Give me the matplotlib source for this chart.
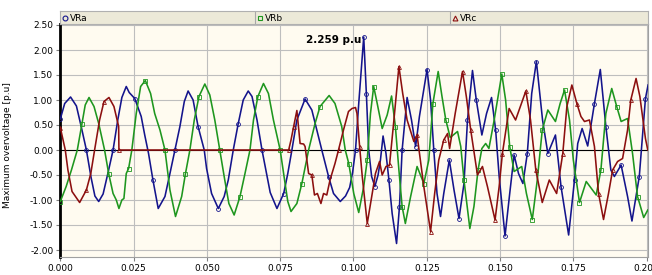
import numpy as np
import matplotlib
matplotlib.use("Agg")
import matplotlib.pyplot as plt

# time in ms, values in p.u.
t_a = [0, 1.5, 3.5, 5.5, 7.2, 8.9, 10.5, 11.8, 13.1, 14.6,
       16.3, 18.0, 19.6, 21.0, 22.5, 23.5, 25.4, 27.6, 28.8, 30.1,
       31.6, 33.4, 35.7, 37.4, 39.1, 40.8, 42.3, 43.6, 45.3, 47.0,
       49.1, 49.9, 51.6, 53.9, 55.9, 57.3, 59.0, 60.7, 62.4, 64.1,
       65.4, 67.1, 68.8, 71.6, 73.9, 76.2, 77.6, 79.0, 80.7, 83.5,
       85.8, 87.5, 89.2, 91.5, 93.2, 95.5, 97.3, 98.7, 99.7, 100.7,
       101.8, 103.5, 104.4, 105.2, 106.2, 107.3, 108.4, 109.2, 110.1, 111.1,
       112.1, 113.2, 114.7, 115.7, 116.6, 118.3, 119.8, 121.2, 122.5, 125.1,
       126.3, 127.4, 128.5, 129.7, 130.8, 132.7, 134.3, 136.0, 137.7, 138.9,
       140.6, 141.9, 143.8, 145.4, 147.1, 148.5, 149.7, 151.7, 153.3, 154.8,
       156.3, 157.8, 159.3, 160.8, 162.4, 164.5, 166.3, 168.9, 170.8, 173.4,
       175.4, 176.5, 178.0, 179.9, 182.2, 184.2, 186.1, 187.8, 189.0, 191.3,
       193.5, 195.0, 197.5, 199.6, 200.5]
v_a = [0.62, 0.93, 1.06, 0.88, 0.45, 0.0, -0.55, -0.92, -1.03, -0.88,
       -0.45, 0.0, 0.6, 1.05, 1.27, 1.15, 1.03, 0.67, 0.3, -0.07,
       -0.6, -1.17, -0.93, -0.47, 0.0, 0.47, 0.97, 1.18, 1.0, 0.47,
       0.0, -0.37, -0.87, -1.17, -0.93, -0.6, 0.0, 0.53, 1.0, 1.18,
       1.07, 0.6, 0.0, -0.85, -1.17, -0.87, -0.47, 0.0, 0.6, 1.02,
       0.8, 0.4, 0.0, -0.53, -0.87, -1.03, -0.92, -0.75, -0.45, 0.0,
       0.93, 2.26, 1.13, 0.0, -0.53, -0.73, -0.5, -0.2, 0.28, -0.07,
       -0.6, -1.27, -1.87, -1.13, 0.0, 1.05, 0.6, 0.07, 0.67, 1.61,
       1.0, 0.0, -0.87, -1.33, -0.87, -0.2, -0.8, -1.37, -0.67, 0.6,
       1.59, 1.0, 0.30, 0.73, 1.05, 0.4, -0.53, -1.72, -0.87, -0.1,
       -0.47, -0.67, -0.07, 1.13, 1.77, 0.6, -0.07, 0.3, -0.73, -1.7,
       -0.6, 0.13, 0.43, 0.08, 0.93, 1.61, 0.47, -0.4, -0.53, -0.3,
       -0.93, -1.42, -0.53, 1.03, 1.3]

t_b = [0, 2.0, 3.8, 5.8, 7.4, 8.5, 9.8, 11.5, 13.1, 15.1,
       16.5, 18.0, 19.1, 20.0, 21.0, 21.7, 22.5, 23.3, 24.4, 25.9,
       27.4, 29.0, 30.8, 32.2, 34.0, 35.7, 37.4, 39.3, 41.4, 42.7,
       44.2, 45.7, 47.3, 49.3, 51.0, 52.7, 54.4, 56.1, 57.5, 59.3,
       61.3, 63.0, 64.7, 65.9, 67.4, 69.3, 71.0, 72.7, 75.0, 76.5,
       77.6, 78.7, 80.7, 82.4, 84.7, 86.9, 88.6, 91.7, 93.7, 96.0,
       97.2, 98.4, 100.1, 101.8, 103.5, 104.7, 105.8, 106.9, 108.1, 109.8,
       111.5, 113.0, 114.3, 115.5, 116.6, 117.7, 119.5, 121.7, 124.0, 125.7,
       127.1, 128.9, 130.2, 131.5, 133.0, 135.5, 136.6, 137.7, 139.7, 141.1,
       142.5, 143.8, 145.1, 146.2, 148.0, 150.6, 151.9, 153.3, 154.8, 157.4,
       159.0, 161.0, 162.7, 164.4, 166.3, 168.9, 170.5, 172.0, 173.7, 175.0,
       177.1, 179.4, 182.8, 184.4, 186.1, 188.1, 189.8, 191.3, 193.5, 195.2,
       196.9, 199.0, 200.4]
v_b = [-1.03, -0.73, -0.4, 0.0, 0.53, 0.9, 1.05, 0.87, 0.53, 0.0,
       -0.47, -0.87, -1.0, -1.17, -1.0, -0.97, -0.47, -0.37, 0.0, 0.73,
       1.27, 1.39, 1.13, 0.73, 0.4, 0.0, -0.8, -1.33, -0.93, -0.47,
       0.0, 0.6, 1.07, 1.32, 1.1, 0.6, 0.0, -0.6, -1.07, -1.3,
       -0.93, -0.47, 0.0, 0.6, 1.07, 1.33, 1.13, 0.6, 0.0, -0.6,
       -1.03, -1.23, -1.07, -0.67, 0.0, 0.53, 0.87, 1.09, 0.93, 0.47,
       0.0, -0.27, -0.87, -1.25, -0.73, -0.2, 0.73, 1.27, 0.93, 0.43,
       0.7, 1.08, 0.47, -0.4, -1.13, -1.47, -0.93, -0.33, -0.67, -0.2,
       0.93, 1.57, 1.07, 0.6, 0.25, 0.37, 0.07, -0.6, -1.57, -1.13,
       -0.4, 0.03, 0.13, 0.03, 0.6, 1.52, 1.0, 0.07, -0.43, -0.33,
       -0.87, -1.39, -0.6, 0.4, 0.8, 0.57, 0.93, 1.2, 0.6, -0.2,
       -1.05, -0.63, -0.9, -0.4, 0.73, 1.23, 0.87, 0.57, 0.63, -0.07,
       -0.93, -1.35, -1.2]

t_c = [0, 1.7, 2.6, 4.0, 6.6, 8.9, 10.4, 11.7, 13.4, 14.9,
       16.6, 18.3, 19.9, 20.0, 77.9, 78.7, 79.6, 80.7, 81.8, 83.0,
       83.5, 84.7, 85.8, 86.7, 87.7, 88.9, 89.8, 90.9, 92.0, 93.7,
       94.9, 96.6, 98.3, 99.5, 100.7, 101.2, 102.1, 103.0, 104.7, 106.4,
       107.5, 108.9, 109.8, 111.1, 112.3, 113.8, 115.5, 116.8, 118.3, 120.6,
       121.7, 124.0, 126.3, 127.7, 129.1, 130.8, 132.1, 132.8, 134.7, 137.2,
       138.5, 140.0, 142.3, 144.0, 145.7, 148.3, 149.7, 150.8, 153.1, 155.3,
       158.8, 160.4, 162.2, 164.4, 166.8, 169.3, 171.4, 172.8, 174.5, 176.2,
       177.6, 178.8, 180.5, 182.2, 183.6, 185.3, 187.0, 188.4, 190.1, 191.8,
       193.5, 194.6, 196.4, 197.7, 199.6, 200.4]
v_c = [0.45, 0.0, -0.4, -0.83, -1.05, -0.8, -0.47, 0.0, 0.6, 0.97,
       1.05, 0.87, 0.47, 0.0, 0.0, 0.2, 0.47, 0.79, 0.13, 0.12,
       0.07, -0.47, -0.5, -0.9, -0.87, -1.07, -0.87, -0.9, -0.6, -0.27,
       0.0, 0.4, 0.77, 0.83, 0.85, 0.73, 0.07, -0.53, -1.47, -0.87,
       -0.47, -0.23, -0.5, -0.33, -0.3, 0.6, 1.67, 1.13, 0.6, 0.17,
       0.3, -0.73, -1.63, -0.87, -0.2, 0.2, 0.33, 0.03, 0.73, 1.57,
       1.07, 0.4, -0.5, -0.33, -0.73, -1.4, -0.73, -0.07, 0.83, 0.6,
       1.18, 0.6, -0.4, -1.05, -0.6, -0.87, -0.07, 0.87, 1.3, 0.93,
       0.67, 0.57, 0.6, 0.07, -0.87, -1.39, -0.87, -0.4, -0.23, -0.17,
       0.4, 1.0, 1.43, 1.07, 0.23, 0.0]

names = ["VRa", "VRb", "VRc"]
colors = ["#14148C", "#1E961E", "#8C0F0F"]
marks = ["o", "s", "^"]

W, H = 652, 275
fig = plt.figure(figsize=(W / 100, H / 100), dpi=100)
fig.patch.set_facecolor("white")

ax = fig.add_axes([60.3 / W, 1 - 257 / H, (647.5 - 60.3) / W, (257 - 24) / H])
ax.set_facecolor("#FFFBF0")

series = [(t_a, v_a), (t_b, v_b), (t_c, v_c)]
for (t, v), c, m in zip(series, colors, marks):
    ax.plot(np.array(t) / 1000.0, v, color=c, lw=1.15, marker=m, ms=2.8,
            mfc="none", mec=c, mew=0.6, markevery=0.14,
            solid_joinstyle="round", zorder=3)

ax.set_xlim(0, 0.2003)
ax.set_ylim(-2.14, 2.52)
ax.set_xticks(np.arange(0, 0.2001, 0.025))
ax.set_yticks(np.arange(-2.0, 2.501, 0.5))
ax.set_xticklabels(["%.3f" % x for x in np.arange(0, 0.2001, 0.025)])
ax.set_yticklabels(["%.2f" % y for y in np.arange(-2.0, 2.501, 0.5)])
ax.tick_params(labelsize=6.5, length=3, width=0.8, color="#808080", pad=2)
ax.grid(True, color="#BEBEBE", lw=0.8, zorder=0)
ax.axhline(0, color="black", lw=0.8, zorder=2)

for s in ["top", "right", "bottom"]:
    ax.spines[s].set_color("#A0A0A0")
    ax.spines[s].set_linewidth(0.8)
ax.spines["left"].set_color("black")
ax.spines["left"].set_linewidth(2)

ax.text(0.1027, 2.2, "2.259 p.u", ha="right", va="center",
        fontsize=7.5, fontweight="bold")

fig.text(8 / W, 1 - 145 / H, "Maximum overvoltage [p.u]", rotation=90,
         ha="center", va="center", fontsize=6.5)

# legend bar on top
lax = fig.add_axes([60 / W, 1 - 24 / H, 588 / W, 13 / H])
lax.set_facecolor("#ECE9D8")
lax.set_xlim(60, 648)
lax.set_ylim(0, 1)
lax.set_xticks([])
lax.set_yticks([])
for s in lax.spines.values():
    s.set_color("#B0B0B0")
    s.set_linewidth(0.8)
for x0, name, c, m in zip([65, 260, 455], names, colors, marks):
    lax.plot([x0], [0.5], marker=m, ms=3.5, mfc="none", mec=c, mew=0.8)
    lax.text(x0 + 5, 0.45, name, fontsize=6.5, va="center", ha="left")
for xs in [255, 450]:
    lax.axvline(xs, color="#A8A8A8", lw=0.8)

fig.savefig("out.png", dpi=100)
